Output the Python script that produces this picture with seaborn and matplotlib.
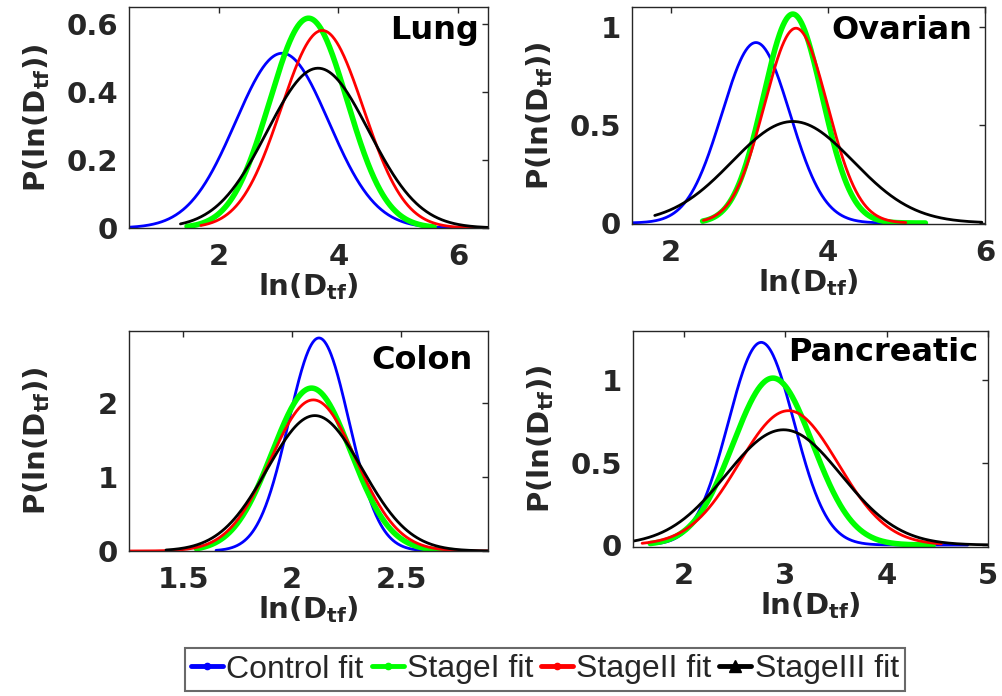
import numpy as np
import pandas as pd
import matplotlib
matplotlib.use("Agg")
import matplotlib.pyplot as plt
import seaborn as sns
from matplotlib.lines import Line2D

# ---------------- data (Gaussian fit parameters) ----------------
panels = ["Lung", "Ovarian", "Colon", "Pancreatic"]
series = ["Control fit", "StageI fit", "StageII fit", "StageIII fit"]

# peak position (mean) of each fit, per panel: [Control, StageI, StageII, StageIII]
lung_mu = [3.06, 3.50, 3.73, 3.66]
ovarian_mu = [3.08, 3.55, 3.59, 3.55]
colon_mu = [2.123, 2.089, 2.097, 2.104]
pancreatic_mu = [2.764, 2.879, 3.033, 2.984]

# peak height of each fit
lung_peak = [0.514, 0.617, 0.581, 0.470]
ovarian_peak = [0.919, 1.064, 0.992, 0.517]
colon_peak = [2.876, 2.199, 2.040, 1.828]
pancreatic_peak = [1.231, 1.014, 0.816, 0.700]

# width (standard deviation) of each fit
lung_sigma = [0.78, 0.647, 0.687, 0.849]
ovarian_sigma = [0.434, 0.375, 0.402, 0.772]
colon_sigma = [0.139, 0.181, 0.196, 0.218]
pancreatic_sigma = [0.324, 0.393, 0.489, 0.570]

# x-extent of each drawn curve
lung_xstart = [0.52, 1.47, 1.70, 1.36]
lung_xend = [6.5, 5.60, 6.5, 6.5]
ovarian_xstart = [1.5, 2.40, 2.41, 1.79]
ovarian_xend = [4.70, 5.24, 4.99, 5.96]
colon_xstart = [1.65, 1.56, 1.25, 1.42]
colon_xend = [2.60, 2.74, 2.90, 2.90]
pancreatic_xstart = [1.74, 1.67, 1.59, 1.5]
pancreatic_xend = [4.80, 4.46, 4.54, 5.0]

# axis limits and ticks
xlims = [(0.5, 6.5), (1.5, 6.0), (1.25, 2.9), (1.5, 5.0)]
ylims = [(0, 0.65), (-0.005, 1.1), (0, 2.97), (-0.012, 1.30)]
xticks = [[2, 4, 6], [2, 4, 6], [1.5, 2, 2.5], [2, 3, 4, 5]]
yticks = [[0, 0.2, 0.4, 0.6], [0, 0.5, 1], [0, 1, 2], [0, 0.5, 1]]
xticklabels = [["2", "4", "6"], ["2", "4", "6"], ["1.5", "2", "2.5"], ["2", "3", "4", "5"]]
yticklabels = [["0", "0.2", "0.4", "0.6"], ["0", "0.5", "1"], ["0", "1", "2"], ["0", "0.5", "1"]]

mus = [lung_mu, ovarian_mu, colon_mu, pancreatic_mu]
peaks = [lung_peak, ovarian_peak, colon_peak, pancreatic_peak]
sigmas = [lung_sigma, ovarian_sigma, colon_sigma, pancreatic_sigma]
xstarts = [lung_xstart, ovarian_xstart, colon_xstart, pancreatic_xstart]
xends = [lung_xend, ovarian_xend, colon_xend, pancreatic_xend]

# ---------------- style ----------------
sns.set_theme(style="white")
plt.rcParams["font.family"] = ["DejaVu Sans"]
plt.rcParams["mathtext.fontset"] = "dejavusans"
plt.rcParams["axes.edgecolor"] = "#262626"
plt.rcParams["axes.linewidth"] = 1.0

colors = ["#0000ff", "#00ff00", "#ff0000", "#000000"]
lws = [2.0, 4.0, 2.0, 2.0]
markers = [".", ".", ".", "^"]

fig = plt.figure(figsize=(10.02, 6.96), dpi=100)
W, H = 1002.0, 696.0
boxes = [(129, 7, 488, 228), (632, 7, 985, 224), (129, 331, 488, 551), (633, 331, 988, 547)]
title_pos = [(0.976, 0.965), (0.965, 0.965), (0.958, 0.935), (0.972, 0.972)]

for i, name in enumerate(panels):
    l, t, r, b = boxes[i]
    ax = fig.add_axes([l / W, 1 - b / H, (r - l) / W, (b - t) / H])
    for j, s in enumerate(series):
        x = np.linspace(xstarts[i][j], xends[i][j], 400)
        y = peaks[i][j] * np.exp(-((x - mus[i][j]) ** 2) / (2 * sigmas[i][j] ** 2))
        df = pd.DataFrame({"x": x, "y": y})
        sns.lineplot(data=df, x="x", y="y", ax=ax, color=colors[j], linewidth=lws[j],
                     sort=False, estimator=None, legend=False)
    ax.set_xlim(*xlims[i])
    ax.set_ylim(*ylims[i])
    ax.set_xticks(xticks[i])
    ax.set_xticklabels(xticklabels[i])
    ax.set_yticks(yticks[i])
    ax.set_yticklabels(yticklabels[i])
    ax.tick_params(axis="both", direction="in", length=4, width=1, color="#262626",
                   top=True, right=True, labelsize=21, labelcolor="#262626")
    ax.tick_params(axis="x", pad=11)
    ax.tick_params(axis="y", pad=8)
    for lab in ax.get_xticklabels() + ax.get_yticklabels():
        lab.set_fontweight("bold")
    ax.set_xlabel(r"ln(D$_{\mathbf{tf}}$)", fontsize=21, fontweight="bold", color="#262626", labelpad=0)
    ax.set_ylabel(r"P(ln(D$_{\mathbf{tf}}$))", fontsize=21, fontweight="bold", color="#262626")
    ax.yaxis.set_label_coords(-0.215 * 359 / (r - l), 0.5)
    ax.text(title_pos[i][0], title_pos[i][1], name, transform=ax.transAxes, ha="right", va="top",
            fontsize=23, fontweight="bold", color="black")
    for sp in ax.spines.values():
        sp.set_visible(True)
        sp.set_color("#262626")

handles = [Line2D([], [], color=colors[j], linewidth=3.5, marker=markers[j], markersize=9 if j < 3 else 8)
           for j in range(4)]
leg = fig.legend(handles, series, loc="center", bbox_to_anchor=(545 / W, 1 - 669.5 / H), ncol=4,
                 frameon=True, fancybox=False, edgecolor="#444444", handlelength=1.0,
                 handletextpad=0.1, columnspacing=0.25, borderpad=0.2, borderaxespad=0,
                 prop={"family": ["Liberation Sans"], "size": 23})
leg.get_frame().set_linewidth(1.5)

fig.savefig("out.png", dpi=100)
